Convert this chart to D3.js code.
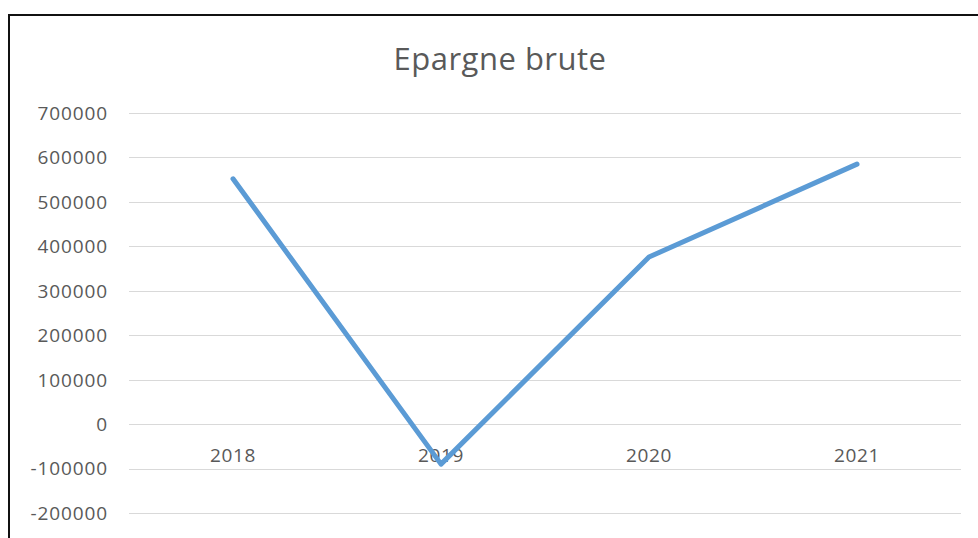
<!DOCTYPE html>
<html>
<head>
<meta charset="utf-8">
<script src="https://cdn.jsdelivr.net/npm/d3@7"></script>
<style>
  body { margin: 0; background: #fff; }
  text { font-family: "Open Sans", "Liberation Sans", sans-serif; fill: #595959; }
</style>
</head>
<body>
<svg id="chart" width="978" height="538"></svg>
<script>
// Data
const years = ["2018", "2019", "2020", "2021"];
const epargne = [552000, -90000, 376000, 585000];
const yTicks = [700000, 600000, 500000, 400000, 300000, 200000, 100000, 0, -100000, -200000];
const title = "Epargne brute";

const svg = d3.select("#chart");

// Outer frame (runs off the right and bottom edge)
svg.append("rect")
    .attr("x", 9)
    .attr("y", 15)
    .attr("width", 1000)
    .attr("height", 600)
    .style("fill", "none")
    .style("stroke", "#111")
    .style("stroke-width", 2);

// Scales
let x = d3.scaleBand()
    .domain(years)
    .range([129, 961]);

let y = d3.scaleLinear()
    .domain([-200000, 700000])
    .range([513, 113]);

// Gridlines
svg.append("g")
    .selectAll("line")
    .data(yTicks)
    .join("line")
    .attr("x1", 129)
    .attr("x2", 961)
    .attr("y1", d => Math.round(y(d)) + 0.5)
    .attr("y2", d => Math.round(y(d)) + 0.5)
    .style("stroke", "#d9d9d9")
    .style("stroke-width", 1);

// Y axis labels
svg.append("g")
    .selectAll("text")
    .data(yTicks)
    .join("text")
    .attr("x", 108)
    .attr("y", d => y(d))
    .attr("dy", "0.36em")
    .attr("text-anchor", "end")
    .style("font-size", "19px")
    .style("letter-spacing", "0.9px")
    .text(d => d);

// Category labels (sit just below the zero line)
svg.append("g")
    .selectAll("text")
    .data(years)
    .join("text")
    .attr("x", d => x(d) + x.bandwidth() / 2)
    .attr("y", y(0) + 38)
    .attr("text-anchor", "middle")
    .style("font-size", "19px")
    .style("letter-spacing", "0.6px")
    .text(d => d);

// Line
let line = d3.line()
    .x((d, i) => x(years[i]) + x.bandwidth() / 2)
    .y(d => y(d));

svg.append("path")
    .datum(epargne)
    .attr("d", line)
    .style("fill", "none")
    .style("stroke", "#5b9bd5")
    .style("stroke-width", 5)
    .style("stroke-linecap", "round")
    .style("stroke-linejoin", "round");

// Title
svg.append("text")
    .attr("x", 500)
    .attr("y", 70)
    .attr("text-anchor", "middle")
    .style("font-size", "31px")
    .style("letter-spacing", "0.5px")
    .text(title);
</script>
</body>
</html>
